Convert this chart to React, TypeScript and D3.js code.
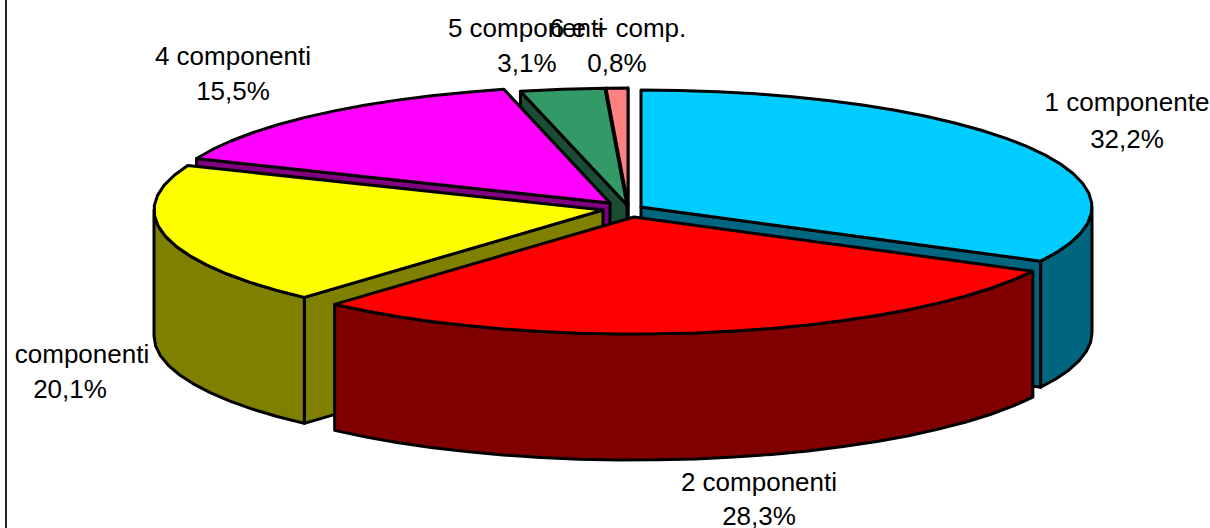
import React from "react";
import * as d3 from "d3";

const categories = ["1 componente", "2 componenti", "3 componenti", "4 componenti", "5 componenti", "6 e + comp."];
const shownNames = ["1 componente", "2 componenti", "componenti", "4 componenti", "5 componenti", "6 e + comp."];
const shares = [32.2, 28.3, 20.1, 15.5, 3.1, 0.8];
const shareLabels = ["32,2%", "28,3%", "20,1%", "15,5%", "3,1%", "0,8%"];
const topColors = ["#00ccff", "#ff0000", "#ffff00", "#ff00ff", "#339966", "#ff8080"];
const wallColors = ["#006680", "#800000", "#808000", "#800080", "#1a4d33", "#804040"];

// layout, separate from the data
const apexX = [641, 634, 603, 610, 627, 628];
const apexY = [207, 217, 210, 203, 205, 205];
const radiusX = [451, 450, 449, 447, 449, 449];
const nameX = [1127, 759, 82, 233, 526, 618];
const shareX = [1127, 759, 70, 233, 527, 617];
const nameY = [111, 491, 363, 65, 37, 37];
const shareY = [148, 525, 398, 100, 72, 72];
const RY = 117;
const DEPTH = 126;
const deg = Math.PI / 180;

const pieLayout = d3.pie<number>().sort(null).value((d) => d);
const arcs = pieLayout(shares);
// slight perspective warp of the pie angle, fixed at the 12 o'clock start
const warp = (a: number) => a + 2.1 * deg * (Math.cos(30 * deg) - Math.cos(a - 30 * deg));
const line = d3.line<[number, number]>();

function pt(i: number, a: number, dy = 0): [number, number] {
  return [apexX[i] + radiusX[i] * Math.sin(a), apexY[i] - RY * Math.cos(a) + dy];
}
function rim(i: number, a0: number, a1: number, dy = 0): [number, number][] {
  const n = Math.max(1, Math.round((a1 - a0) / (5 * deg)));
  return d3.range(n + 1).map((k) => pt(i, a0 + ((a1 - a0) * k) / n, dy));
}

// painter's order, back slices first
const order = [5, 4, 3, 2, 0, 1];

export default function App() {
  return (
    <svg width={1210} height={528} style={{ position: "absolute", left: 0, top: 0, background: "#fff" }}>
      <path d={line([[6, 0], [6, 528]]) ?? ""} stroke="#222" strokeWidth={2} />
      {order.map((i) => {
        const a0 = warp(arcs[i].startAngle);
        const a1 = warp(arcs[i].endAngle);
        const apex: [number, number] = [apexX[i], apexY[i]];
        const apexLow: [number, number] = [apexX[i], apexY[i] + DEPTH];
        const stroke = { stroke: "#000", strokeWidth: 3, strokeLinejoin: "round" as const };
        const faces: [number, number][][] = [];
        // radial walls, only those that face the viewer
        if (Math.sin(a0) < 0) faces.push([apex, pt(i, a0), pt(i, a0, DEPTH), apexLow]);
        if (Math.sin(a1) > 0) faces.push([apex, pt(i, a1), pt(i, a1, DEPTH), apexLow]);
        // front-facing part of the rim
        const f0 = Math.max(a0, 90 * deg);
        const f1 = Math.min(a1, 270 * deg);
        if (f1 > f0) faces.push([...rim(i, f0, f1), ...rim(i, f0, f1, DEPTH).reverse()]);
        return (
          <g key={categories[i]}>
            {faces.map((f, k) => (
              <path key={k} d={(line(f) ?? "") + "Z"} fill={wallColors[i]} {...stroke} />
            ))}
            <path d={(line([apex, ...rim(i, a0, a1)]) ?? "") + "Z"} fill={topColors[i]} {...stroke} />
          </g>
        );
      })}
      <g fontFamily="'Liberation Sans', Arial, sans-serif" fontSize={26} fill="#000" textAnchor="middle">
        {shownNames.map((n, i) => (
          <text key={n}>
            <tspan x={nameX[i]} y={nameY[i]}>{n}</tspan>
            <tspan x={shareX[i]} y={shareY[i]}>{shareLabels[i]}</tspan>
          </text>
        ))}
      </g>
    </svg>
  );
}
